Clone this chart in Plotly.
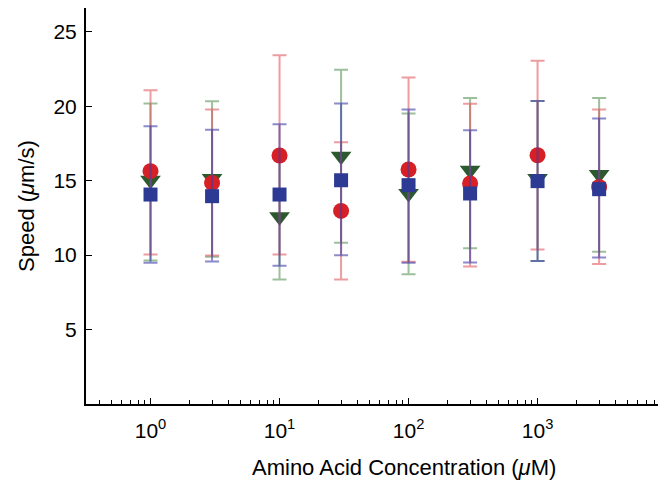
import plotly.graph_objects as go

conc = [1, 3, 10, 30, 100, 300, 1000, 3000]

red_mean = [15.64, 14.85, 16.69, 12.97, 15.75, 14.81, 16.71, 14.58]
red_top = [21.07, 19.78, 23.42, 17.58, 21.93, 20.16, 23.06, 19.78]
red_bot = [10.04, 9.98, 10.04, 8.37, 9.55, 9.24, 10.38, 9.40]

blue_mean = [14.07, 13.96, 14.07, 15.03, 14.70, 14.14, 14.97, 14.43]
blue_top = [18.66, 18.43, 18.79, 20.18, 19.78, 18.39, 20.36, 19.17]
blue_bot = [9.49, 9.58, 9.28, 10.00, 9.49, 9.51, 9.60, 9.84]

green_mean = [15.03, 15.15, 12.57, 16.64, 14.14, 15.70, 15.15, 15.42]
green_top = [20.18, 20.34, 16.75, 22.46, 19.51, 20.56, 20.36, 20.56]
green_bot = [9.64, 9.89, 8.37, 10.83, 8.72, 10.47, 9.60, 10.22]

x_tickvals = [1, 10, 100, 1000]
x_ticktext = ["10<sup>0</sup>", "10<sup>1</sup>", "10<sup>2</sup>", "10<sup>3</sup>"]
x_minor = [m * 10 ** e for e in range(-1, 4) for m in range(2, 10) if 0.3 <= m * 10 ** e <= 9500]
y_tickvals = [5, 10, 15, 20, 25]

series = [
    ("green", green_mean, green_top, green_bot, "triangle-down", 18, "#2c5a2e", "rgba(90,150,90,0.6)"),
    ("red", red_mean, red_top, red_bot, "circle", 16, "#d71f26", "rgba(225,90,95,0.6)"),
    ("blue", blue_mean, blue_top, blue_bot, "square", 14, "#2c3a94", "rgba(60,60,170,0.6)"),
]

fig = go.Figure()
for name, mean, top, bot, sym, size, col, ecol in series:
    fig.add_trace(go.Scatter(
        x=conc, y=mean, mode="markers", name=name,
        marker=dict(symbol=sym, size=size, color=col, line=dict(width=0)),
        error_y=dict(type="data", symmetric=False,
                     array=[t - m for t, m in zip(top, mean)],
                     arrayminus=[m - b for m, b in zip(mean, bot)],
                     color=ecol, thickness=2, width=7),
        showlegend=False,
    ))

font = "Liberation Sans, Arial, sans-serif"
fig.update_layout(
    width=666, height=483,
    margin=dict(l=78, r=10, t=0, b=87),
    paper_bgcolor="white", plot_bgcolor="white",
    font=dict(family=font, color="black"),
    xaxis=dict(
        type="log", range=[-0.5, 3.98],
        tickvals=x_tickvals, ticktext=x_ticktext,
        ticks="inside", ticklen=6, tickwidth=1, tickcolor="black",
        minor=dict(tickvals=x_minor, ticks="inside", ticklen=4, tickwidth=1, tickcolor="black"),
        showline=True, linecolor="black", linewidth=2,
        showgrid=False, zeroline=False,
        tickfont=dict(size=21), ticklabelstandoff=7,
    ),
    yaxis=dict(
        range=[0, 26.6],
        tickvals=y_tickvals,
        ticks="inside", ticklen=6, tickwidth=1, tickcolor="black",
        showline=True, linecolor="black", linewidth=2,
        showgrid=False, zeroline=False,
        tickfont=dict(size=21), ticklabelstandoff=3,
    ),
    annotations=[
        dict(text="Amino Acid Concentration (<i>μ</i>M)", xref="paper", yref="paper",
             x=0.55, y=0, yshift=-63, xanchor="center", yanchor="middle",
             showarrow=False, font=dict(size=22, family=font)),
        dict(text="Speed (<i>μ</i>m/s)", xref="paper", yref="paper", textangle=-90,
             x=0, y=0.5, xshift=-60, xanchor="center", yanchor="middle",
             showarrow=False, font=dict(size=22, family=font)),
    ],
)

fig.write_html("out.html")
